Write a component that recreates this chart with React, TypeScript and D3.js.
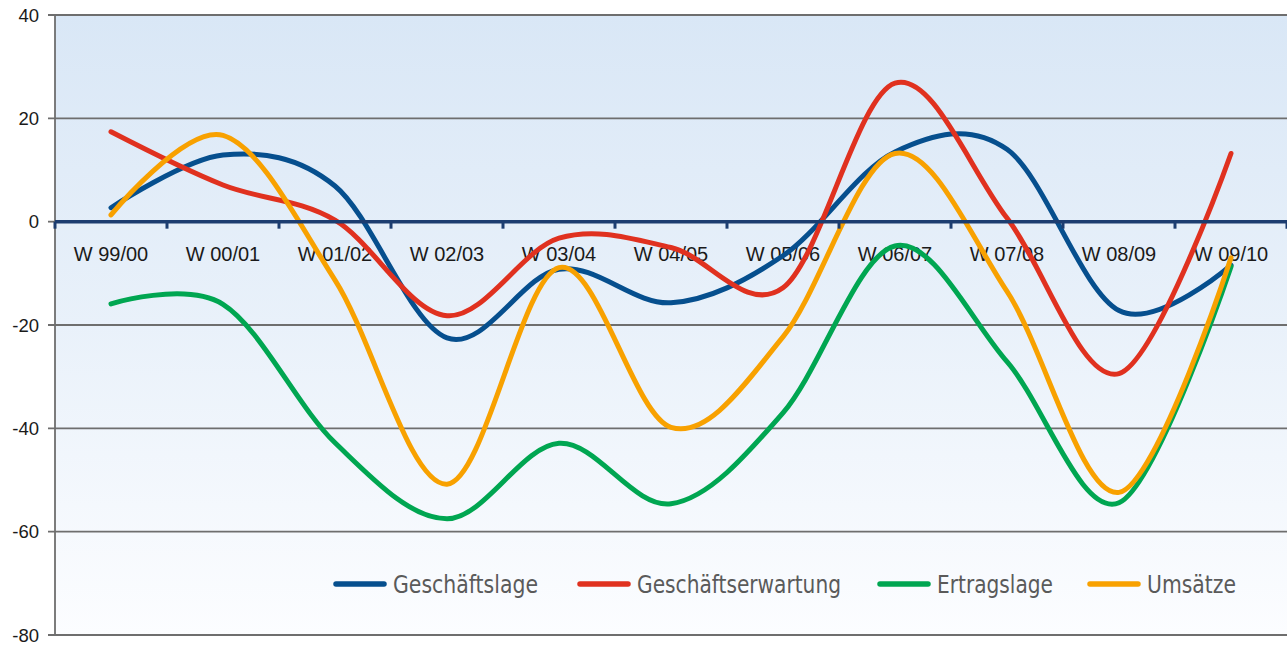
import React from "react";
import * as d3 from "d3";

const categories = ["W 99/00", "W 00/01", "W 01/02", "W 02/03", "W 03/04", "W 04/05", "W 05/06", "W 06/07", "W 07/08", "W 08/09", "W 09/10"];
const geschaeftslage = [2.7, 12.9, 6.9, -22.5, -9.2, -15.7, -6.6, 13.5, 14, -17.2, -8.4];
const geschaeftserwartung = [17.4, 7.1, 0.3, -18.2, -3.2, -5, -12.8, 26.8, 0.7, -29.4, 13.2];
const ertragslage = [-15.9, -16, -42.8, -57.5, -42.9, -54.6, -37, -4.7, -27.1, -54.4, -8.7];
const umsaetze = [1.3, 16.7, -11.3, -50.8, -8.9, -39.8, -22.3, 13.2, -13.5, -52.4, -7];
const yTicks = [40, 20, 0, -20, -40, -60, -80];

const seriesNames = ["Geschäftslage", "Geschäftserwartung", "Ertragslage", "Umsätze"];
const seriesValues = [geschaeftslage, geschaeftserwartung, ertragslage, umsaetze];
const seriesColors = ["#064f8e", "#e0311f", "#00a651", "#f8a100"];
const legendX = [336, 580, 880, 1090];
const legendTextWidth = [145, 204, 116, 89];

export default function App() {
  const W = 1287, H = 648;
  const left = 55, right = 1287, top = 15, bottom = 635;
  const x = d3.scaleBand<string>().domain(categories).range([left, right]).padding(0);
  const y = d3.scaleLinear().domain([-80, 40]).range([bottom, top]);
  const cx = (c: string) => (x(c) as number) + x.bandwidth() / 2;
  const line = d3
    .line<number>()
    .x((_, i) => cx(categories[i]))
    .y((v) => y(v))
    .curve(d3.curveCardinal.tension(0));
  const boundaries = categories.map((c) => x(c) as number).concat([right]);

  return (
    <svg width={W} height={H} style={{ position: "absolute", left: 0, top: 0, display: "block" }}>
      <defs>
        <linearGradient id="bg" x1="0" y1="0" x2="0" y2="1">
          <stop offset="0" stopColor="#d9e7f6" />
          <stop offset="0.5" stopColor="#e9f1fa" />
          <stop offset="1" stopColor="#fcfdff" />
        </linearGradient>
      </defs>
      <rect x={0} y={0} width={W} height={H} fill="#ffffff" />
      <rect x={left} y={top} width={right - left} height={bottom - top} fill="url(#bg)" />
      {yTicks.map((t) =>
        t === 0 ? null : (
          <line key={t} x1={left - 7} x2={right} y1={y(t)} y2={y(t)} stroke="#6e6e6e" strokeWidth={1.8} />
        )
      )}
      <line x1={left - 7} x2={left} y1={y(0)} y2={y(0)} stroke="#6e6e6e" strokeWidth={1.8} />
      <line x1={left} x2={left} y1={top} y2={bottom} stroke="#6e6e6e" strokeWidth={1.8} />
      {yTicks.map((t) => (
        <text
          key={"l" + t}
          x={39}
          y={y(t)}
          dy="0.36em"
          textAnchor="end"
          fontFamily="'Liberation Sans', Arial, sans-serif"
          fontSize={18.5}
          fill="#1a1a1a"
        >
          {t}
        </text>
      ))}
      {categories.map((c) => (
        <text
          key={"c" + c}
          x={cx(c)}
          y={261}
          textAnchor="middle"
          fontFamily="'Liberation Sans', Arial, sans-serif"
          fontSize={20}
          fill="#1a1a1a"
        >
          {c}
        </text>
      ))}
      {seriesValues.map((vals, i) => (
        <path
          key={"s" + i}
          d={line(vals) as string}
          fill="none"
          stroke={seriesColors[i]}
          strokeWidth={5}
          strokeLinecap="round"
          strokeLinejoin="round"
        />
      ))}
      <line x1={left} x2={right} y1={y(0)} y2={y(0)} stroke="#1c3d70" strokeWidth={3.5} />
      {boundaries.map((b, i) => (
        <line key={"t" + i} x1={b} x2={b} y1={y(0)} y2={y(0) + 7} stroke="#1c3d70" strokeWidth={3} />
      ))}
      {seriesNames.map((n, i) => (
        <g key={"lg" + i}>
          <line x1={legendX[i]} x2={legendX[i] + 48} y1={584} y2={584} stroke={seriesColors[i]} strokeWidth={5.5} strokeLinecap="round" />
          <text
            x={legendX[i] + 57}
            y={592.5}
            fontFamily="'Liberation Sans Narrow', 'DejaVu Sans Condensed', sans-serif"
            fontSize={24}
            textLength={legendTextWidth[i]}
            lengthAdjust="spacingAndGlyphs"
            fill="#5a5a5a"
          >
            {n}
          </text>
        </g>
      ))}
    </svg>
  );
}
